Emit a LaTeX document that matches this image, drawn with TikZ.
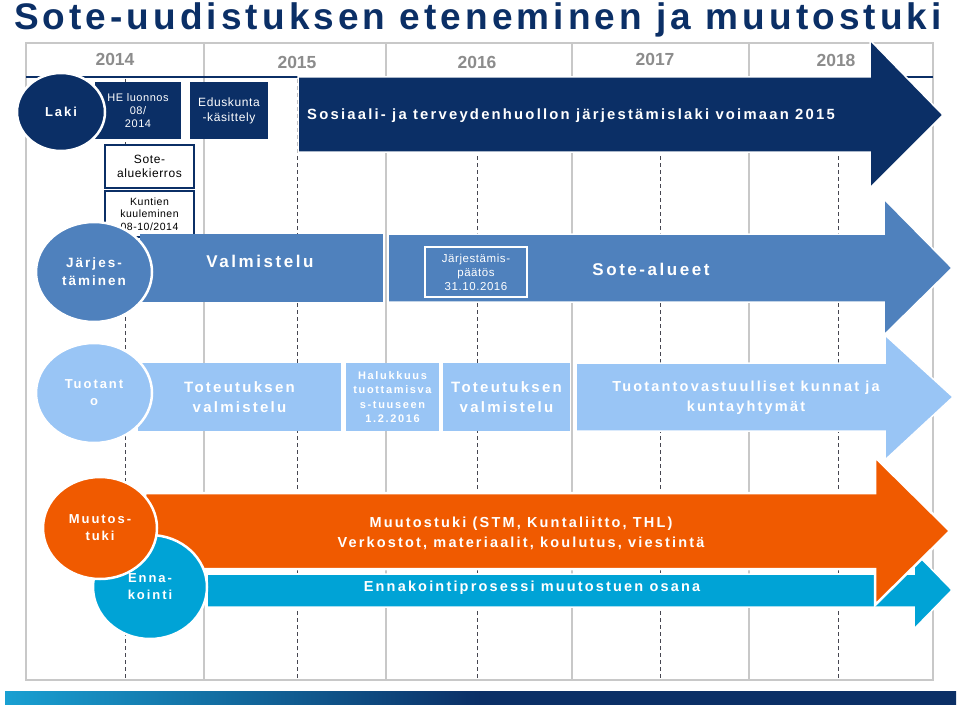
\documentclass[tikz,border=0pt]{standalone}
\usepackage{fontspec}
\setmainfont{Liberation Sans}
\setsansfont{Liberation Sans}
\newfontfamily\widefont[LetterSpace=15]{Liberation Sans}
\newfontfamily\titlefont[LetterSpace=11]{Liberation Sans}
\newfontfamily\smallfont[LetterSpace=5]{Liberation Sans}
\usetikzlibrary{shapes.geometric}

\definecolor{lawnavy}{RGB}{11,47,102}
\definecolor{orgblue}{RGB}{79,129,189}
\definecolor{prodblue}{RGB}{153,197,245}
\definecolor{supportorange}{RGB}{240,90,0}
\definecolor{foresightcyan}{RGB}{0,163,214}
\definecolor{gridgray}{RGB}{200,200,200}
\definecolor{yeargray}{RGB}{140,140,140}
\definecolor{dashgray}{RGB}{70,70,80}
\definecolor{barcyan}{RGB}{25,160,210}
\pgfdeclarehorizontalshading{footbar}{100bp}{color(0bp)=(barcyan); color(25bp)=(barcyan); color(50bp)=(lawnavy); color(100bp)=(lawnavy)}

\begin{document}
\begin{tikzpicture}[x=1pt,y=-1pt,
  gridline/.style={draw=gridgray,line width=1.8pt},
  midline/.style={draw=dashgray,line width=0.9pt,dash pattern=on 4pt off 3pt},
  yearlabel/.style={text=yeargray,font=\bfseries\fontsize{17.5}{20}\selectfont},
  ball/.style={ellipse,draw=white,line width=2.5pt,inner sep=0pt,text=white,align=center,font=\widefont\bfseries\fontsize{13}{17}\selectfont},
  stagebox/.style={rectangle,inner sep=0pt,text=white,align=center},
  band/.style={draw=white,line width=1.5pt},
  bandtext/.style={text=white,align=center,font=\widefont\bfseries\fontsize{14.5}{20}\selectfont},
  smalltext/.style={align=center,font=\smallfont\fontsize{11}{13}\selectfont}]
\useasboundingbox (0,0) rectangle (960,706);

% title
\node[anchor=base,text=lawnavy,font=\titlefont\bfseries\fontsize{37}{40}\selectfont] (title) at (478,30) {Sote-uudistuksen eteneminen ja muutostuki};

% grid of years
\draw[gridline] (26,43) rectangle (933,680);
\foreach \x in {204,386,572,749} \draw[gridline] (\x,43) -- (\x,680);
\draw[lawnavy,line width=1.5pt] (26,77) -- (933,77);
\foreach \x in {125,297,477,660,838} \draw[midline] (\x,79) -- (\x,680);
\node[yearlabel] (y2014) at (115,59) {2014};
\node[yearlabel] (y2015) at (297,62) {2015};
\node[yearlabel] (y2016) at (477,62) {2016};
\node[yearlabel] (y2017) at (655,59) {2017};
\node[yearlabel] (y2018) at (836,60) {2018};

% Laki
\path[fill=lawnavy,band] (298,77) -- (870,77) -- (870,40) -- (943,115) -- (870,188) -- (870,152) -- (298,152) -- cycle;
\node[bandtext,font=\widefont\bfseries\fontsize{14.8}{20}\selectfont] (lawtext) at (571,116) {Sosiaali- ja terveydenhuollon järjestämislaki voimaan 2015};
\node[stagebox,fill=lawnavy,minimum width=86pt,minimum height=57pt,smalltext] (heluonnos) at (138,110.5) {HE luonnos\\08/\\2014};
\node[stagebox,fill=lawnavy,minimum width=78pt,minimum height=57pt,smalltext,font=\smallfont\fontsize{12}{15}\selectfont] (eduskunta) at (229,110.5) {Eduskunta\\-käsittely};
\node[ball,fill=lawnavy,minimum width=88pt,minimum height=78pt] (laki) at (61,112) {Laki};
\node[rectangle,draw=lawnavy,line width=2pt,fill=white,minimum width=89pt,minimum height=43pt,inner sep=0pt,smalltext,font=\smallfont\fontsize{12}{14}\selectfont] (aluekierros) at (149.5,166.5) {Sote-\\aluekierros};
\node[rectangle,draw=lawnavy,line width=2pt,fill=white,minimum width=89pt,minimum height=46pt,inner sep=0pt,smalltext,font=\smallfont\fontsize{10.5}{12.5}\selectfont] (kuuleminen) at (149.5,214) {Kuntien\\kuuleminen\\08-10/2014};

% Jarjestaminen
\node[stagebox,fill=orgblue,minimum width=243pt,minimum height=68pt] (valmistelu) at (261.5,268) {};
\node[bandtext,font=\widefont\bfseries\fontsize{17}{20}\selectfont] (valmisteluteksti) at (260,261) {Valmistelu};
\path[fill=orgblue,band] (388,234) -- (884,234) -- (884,199) -- (952,268) -- (884,335) -- (884,302) -- (388,302) -- cycle;
\node[stagebox,draw=white,line width=2pt,fill=orgblue,minimum width=102pt,minimum height=50pt,smalltext,font=\smallfont\fontsize{11.5}{14}\selectfont] (paatos) at (476,272) {Järjestämis-\\päätös\\31.10.2016};
\node[bandtext,font=\widefont\bfseries\fontsize{17}{20}\selectfont] (sotealueet) at (651,269) {Sote-alueet};
\node[ball,fill=orgblue,minimum width=116pt,minimum height=100pt,font=\widefont\bfseries\fontsize{13.5}{18}\selectfont] (jarjestaminen) at (94,272) {Järjes-\\täminen};

% Tuotanto
\node[stagebox,fill=prodblue,minimum width=203pt,minimum height=68pt,bandtext,font=\widefont\bfseries\fontsize{15}{20}\selectfont] (toteutus) at (239.5,397) {Toteutuksen\\valmistelu};
\node[stagebox,fill=prodblue,minimum width=93pt,minimum height=68pt,bandtext,font=\widefont\bfseries\fontsize{11}{14.3}\selectfont] (halukkuus) at (392.5,397) {Halukkuus\\tuottamisva\\s-tuuseen\\1.2.2016};
\node[stagebox,fill=prodblue,minimum width=127pt,minimum height=68pt,bandtext,font=\widefont\bfseries\fontsize{15}{20}\selectfont] (toteutus2) at (506.5,397) {Toteutuksen\\valmistelu};
\path[fill=prodblue,band] (576,363) -- (885,363) -- (885,335) -- (953,397) -- (885,460) -- (885,431) -- (576,431) -- cycle;
\node[bandtext] (tuotantoteksti) at (746,398) {Tuotantovastuulliset kunnat ja\\kuntayhtymät};
\node[ball,fill=prodblue,minimum width=116pt,minimum height=100pt] (tuotanto) at (94,393) {Tuotant\\o};

% Muutostuki ja ennakointi
\path[fill=foresightcyan,band] (207,574) -- (914,574) -- (914,551) -- (952,590) -- (914,629) -- (914,607) -- (207,607) -- cycle;
\path[fill=supportorange,draw=white,line width=2.5pt] (145,493) -- (875,493) -- (875,457) -- (950,531) -- (875,605) -- (875,569) -- (145,569) -- cycle;
\node[bandtext] (muutosteksti) at (521,533) {Muutostuki (STM, Kuntaliitto, THL)\\Verkostot, materiaalit, koulutus, viestintä};
\node[bandtext] (ennakointiteksti) at (532,588) {Ennakointiprosessi muutostuen osana};
\node[ball,fill=foresightcyan,minimum width=114pt,minimum height=104pt] (ennakointi) at (150,587) {Enna-\\kointi};
\node[ball,fill=supportorange,minimum width=114pt,minimum height=102pt] (muutostuki) at (100,528) {Muutos-\\tuki};

% bottom bar
\shade[shading=footbar] (5,691) rectangle (956,704);
\end{tikzpicture}
\end{document}
